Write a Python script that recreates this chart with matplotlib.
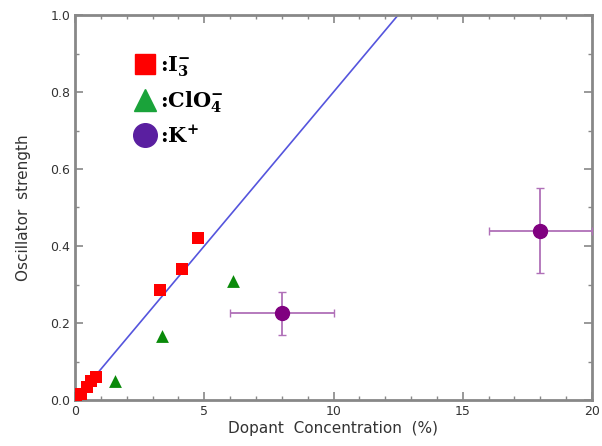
import numpy as np
import matplotlib.pyplot as plt
from matplotlib.lines import Line2D
from matplotlib.ticker import MultipleLocator

# I3- doped
i3_x = [0.05, 0.25, 0.45, 0.6, 0.8, 3.3, 4.15, 4.75]
i3_y = [0.005, 0.015, 0.035, 0.05, 0.06, 0.285, 0.34, 0.42]

# ClO4- doped
clo4_x = [1.55, 3.35, 6.1]
clo4_y = [0.05, 0.165, 0.31]

# K+ doped, with error bars
k_x = [8.0, 18.0]
k_y = [0.225, 0.44]
k_xerr = [2.0, 2.0]
k_yerr_lo = [0.055, 0.11]
k_yerr_hi = [0.055, 0.11]

# linear fit through origin
fit_slope = 0.08
fit_range = [0.8, 12.5]

x_ticks = [0, 5, 10, 15, 20]
y_ticks = [0.0, 0.2, 0.4, 0.6, 0.8, 1.0]

RED = "#ff0000"
GREEN = "#0a8a0a"
PURPLE = "#800080"
LEG_PURPLE = "#5a1fa0"
LINE_BLUE = "#5555dd"
AXIS_GRAY = "#888888"

plt.rcParams["mathtext.fontset"] = "dejavuserif"

fig = plt.figure(figsize=(6.02, 4.46), dpi=100)
ax = fig.add_axes([75 / 602, 46 / 446, 517 / 602, 385 / 446])

fx = np.array(fit_range)
ax.plot(fx, fit_slope * fx, color=LINE_BLUE, linewidth=1.2, zorder=2)

ax.errorbar(k_x, k_y, xerr=k_xerr, yerr=[k_yerr_lo, k_yerr_hi], fmt="o",
            color=PURPLE, ecolor="#b070b8", elinewidth=1.3, capsize=3,
            markersize=10, zorder=3)
ax.scatter(i3_x, i3_y, marker="s", s=80, color=RED, zorder=4, linewidths=0)
ax.scatter(clo4_x, clo4_y, marker="^", s=85, color=GREEN, zorder=4, linewidths=0)

ax.set_xlim(0, 20)
ax.set_ylim(0, 1.0)
ax.set_xticks(x_ticks)
ax.set_xticklabels([str(t) for t in x_ticks])
ax.set_yticks(y_ticks)
ax.set_yticklabels([f"{t:.1f}" for t in y_ticks])
ax.xaxis.set_minor_locator(MultipleLocator(1))
ax.yaxis.set_minor_locator(MultipleLocator(0.1))
ax.tick_params(which="both", direction="in", top=True, right=True,
               color=AXIS_GRAY, labelcolor="#333333", labelsize=9)
ax.tick_params(which="major", length=6, width=1.2)
ax.tick_params(which="minor", length=3, width=1.0)
for spine in ax.spines.values():
    spine.set_color(AXIS_GRAY)
    spine.set_linewidth(2.0)

ax.set_xlabel("Dopant  Concentration  (%)", fontsize=11, color="#333333", labelpad=2)
ax.set_ylabel("Oscillator  strength", fontsize=11, color="#333333", labelpad=14)

handles = [
    Line2D([], [], marker="s", linestyle="none", color=RED, markersize=15),
    Line2D([], [], marker="^", linestyle="none", color="#1aa33a", markersize=16),
    Line2D([], [], marker="o", linestyle="none", color=LEG_PURPLE, markersize=17),
]
labels = [r":$\mathbf{I_3^{-}}$", r":$\mathbf{ClO_4^{-}}$", r":$\mathbf{K^{+}}$"]
ax.legend(handles, labels, loc="upper left", bbox_to_anchor=(0.1, 0.92),
          frameon=False, handlelength=1.0, handletextpad=0.2,
          labelspacing=0.5, borderaxespad=0,
          prop={"family": "DejaVu Serif", "weight": "bold", "size": 15})

fig.savefig("out.png", dpi=100)
